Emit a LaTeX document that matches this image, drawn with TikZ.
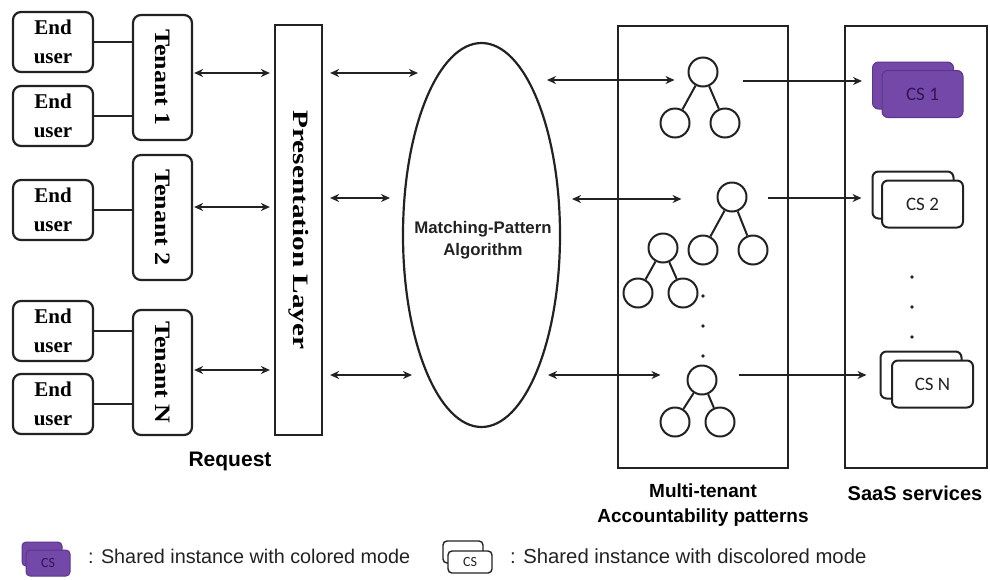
\documentclass[tikz,border=0pt]{standalone}
\usepackage{fontspec}
\setmainfont{Liberation Serif}
\setsansfont{Liberation Sans}
\newfontfamily\csfont{Carlito}
\usetikzlibrary{shapes.geometric,arrows.meta,calc}

\definecolor{ink}{HTML}{222222}
\definecolor{cspurple}{HTML}{7448A8}
\definecolor{csedge}{HTML}{5A3788}
\definecolor{cstext}{HTML}{2E1850}

\tikzset{
  box/.style={draw=ink, line width=2.2pt, inner sep=0pt},
  enduser/.style={box, rounded corners=8pt, minimum width=80pt, minimum height=60pt,
    align=center, font=\fontsize{21}{29}\selectfont\bfseries},
  tenant/.style={box, rounded corners=8pt, minimum width=59pt, minimum height=125pt,
    font=\fontsize{22}{22}\selectfont\bfseries},
  panel/.style={box, line width=2.2pt},
  link/.style={draw=ink, line width=2.3pt},
  both/.style={link, {Stealth[length=9pt,width=8pt]}-{Stealth[length=9pt,width=8pt]}},
  oneway/.style={link, -{Stealth[length=9pt,width=8pt]}},
  leaf/.style={circle, draw=ink, line width=2pt, minimum size=29pt, inner sep=0pt},
  branch/.style={draw=ink, line width=2pt},
  cswhite/.style={draw=ink, line width=2pt, fill=white, rounded corners=6pt,
    minimum width=81pt, minimum height=47pt, inner sep=0pt, text=ink,
    font=\csfont\fontsize{19}{19}\selectfont},
  cscolor/.style={draw=csedge, line width=1pt, fill=cspurple, rounded corners=6pt,
    minimum width=81pt, minimum height=47pt, inner sep=0pt, text=cstext,
    font=\csfont\fontsize{19}{19}\selectfont},
  caption/.style={font=\sffamily\bfseries\fontsize{19}{25}\selectfont, align=center},
  legendtext/.style={font=\sffamily\fontsize{20.3}{20.3}\selectfont, anchor=west, inner sep=0pt, text=ink},
  dotmark/.style={circle, fill=ink, minimum size=3.8pt, inner sep=0pt}
}

\begin{document}
\begin{tikzpicture}[x=1pt, y=-1pt]
\useasboundingbox (0,0) rectangle (990,579);

% end users
\node[enduser] (eu1) at (53,42)  {End\\user};
\node[enduser] (eu2) at (53,116) {End\\user};
\node[enduser] (eu3) at (53,210) {End\\user};
\node[enduser] (eu4) at (53,331) {End\\user};
\node[enduser] (eu5) at (53,404) {End\\user};

% tenants
\node[tenant] (t1) at (162.5,77.5)  {\rotatebox{-90}{\scalebox{1.18}[1]{Tenant 1}}};
\node[tenant] (t2) at (162.5,217.5) {\rotatebox{-90}{\scalebox{1.18}[1]{Tenant 2}}};
\node[tenant] (t3) at (162.5,372.5) {\rotatebox{-90}{\scalebox{1.18}[1]{Tenant N}}};

\draw[link] (eu1.east) -- (eu1.east -| t1.west);
\draw[link] (eu2.east) -- (eu2.east -| t1.west);
\draw[link] (eu3.east) -- (eu3.east -| t2.west);
\draw[link] (eu4.east) -- (eu4.east -| t3.west);
\draw[link] (eu5.east) -- (eu5.east -| t3.west);

% presentation layer
\node[panel, minimum width=47pt, minimum height=410pt,
  font=\fontsize{22}{22}\selectfont\bfseries] (pres) at (298.5,230)
  {\rotatebox{-90}{\scalebox{1.33}[1]{Presentation Layer}}};

\draw[both, shorten <=1pt, shorten >=4pt] (t1.east |- 0,73)  -- (pres.west |- 0,73);
\draw[both, shorten <=1pt, shorten >=4pt] (t2.east |- 0,207) -- (pres.west |- 0,207);
\draw[both, shorten <=1pt, shorten >=4pt] (t3.east |- 0,370) -- (pres.west |- 0,370);

% matching algorithm
\node[ellipse, draw=ink, line width=2.2pt, minimum width=157pt, minimum height=384pt,
  inner sep=0pt] (algo) at (481.5,235) {};
\node[font=\sffamily\bfseries\fontsize{16.8}{22}\selectfont, align=center, text=ink]
  (algotext) at (483,240) {Matching-Pattern\\Algorithm};

\coordinate (pa1) at (418,73);
\coordinate (pa2) at (390,198);
\coordinate (pa3) at (412,375);
\draw[both, shorten <=7pt] (pres.east |- pa1) -- (pa1);
\draw[both, shorten <=7pt] (pres.east |- pa2) -- (pa2);
\draw[both, shorten <=7pt] (pres.east |- pa3) -- (pa3);

% multi-tenant accountability patterns
\node[panel, minimum width=170pt, minimum height=442pt] (mt) at (703,247) {};
\node[panel, minimum width=142pt, minimum height=442pt] (saas) at (916,247) {};

% pattern trees
\node[leaf] (r1) at (703,72) {};
\node[leaf] (a1) at (675,123) {};
\node[leaf] (b1) at (725,123) {};
\node[leaf] (r2) at (732,197) {};
\node[leaf] (a2) at (703,250) {};
\node[leaf] (b2) at (753,250) {};
\node[leaf] (r3) at (663,248) {};
\node[leaf] (a3) at (638,293) {};
\node[leaf] (b3) at (683,293) {};
\node[leaf] (r4) at (702,380) {};
\node[leaf] (a4) at (675,422) {};
\node[leaf] (b4) at (720,422) {};
\foreach \i in {1,2,3,4}{
  \draw[branch] (r\i) -- (a\i);
  \draw[branch] (r\i) -- (b\i);
}
\node[dotmark] (md1) at (703,296) {};
\node[dotmark] (md2) at (703,326) {};
\node[dotmark] (md3) at (703,356) {};

% algorithm <-> patterns
\coordinate (ea1) at (547,80);
\coordinate (ea2) at (572,199);
\coordinate (ea3) at (548,375);
\draw[both, shorten >=13pt] (ea1) -- (r1.west |- ea1);
\draw[both, shorten >=35pt] (ea2) -- (r2.west |- ea2);
\draw[both, shorten >=26pt] (ea3) -- (r4.west |- ea3);

% SaaS services
\node[cscolor] (c1b) at (913,85.5) {};
\node[cscolor] (c1) at (922.5,94) {CS 1};
\node[cswhite] (c2b) at (913,195) {};
\node[cswhite] (c2) at (922.5,204) {CS 2};
\node[cswhite] (c3b) at (921,375) {};
\node[cswhite] (c3) at (932.5,384) {CS N};
\node[dotmark] (sd1) at (912,277) {};
\node[dotmark] (sd2) at (912,307) {};
\node[dotmark] (sd3) at (912,337) {};

\draw[oneway, shorten <=24pt, shorten >=10pt] (r1.east |- 0,81)  -- (c1b.west |- 0,81);
\draw[oneway, shorten <=20pt, shorten >=10pt] (r2.east |- 0,198) -- (c2b.west |- 0,198);
\draw[oneway, shorten <=21pt, shorten >=13pt] (r4.east |- 0,375) -- (c3b.west |- 0,375);

% captions
\node[caption, font=\sffamily\bfseries\fontsize{21}{21}\selectfont] (lreq) at (230,461) {Request};
\node[caption] (lmt) at (703,505) {Multi-tenant\\Accountability patterns};
\node[caption, font=\sffamily\bfseries\fontsize{20}{20}\selectfont] (lsaas) at (915,493) {SaaS services};

% legend
\node[cscolor, minimum width=40pt, minimum height=24pt, rounded corners=4pt] (k1b) at (42,554) {};
\node[cscolor, minimum width=44pt, minimum height=26pt, rounded corners=4pt,
  font=\csfont\fontsize{14}{14}\selectfont] (k1) at (48,563) {CS};
\node[legendtext, font=\sffamily\fontsize{19.8}{19.8}\selectfont] (k1t) at (88,556) {: Shared instance with colored mode};
\node[cswhite, minimum width=40pt, minimum height=22pt, rounded corners=4pt, line width=1.4pt] (k2b) at (463,552) {};
\node[cswhite, minimum width=44pt, minimum height=22pt, rounded corners=4pt, line width=1.4pt,
  font=\csfont\fontsize{14}{14}\selectfont] (k2) at (470,562) {CS};
\node[legendtext] (k2t) at (510,556) {: Shared instance with discolored mode};
\end{tikzpicture}
\end{document}
